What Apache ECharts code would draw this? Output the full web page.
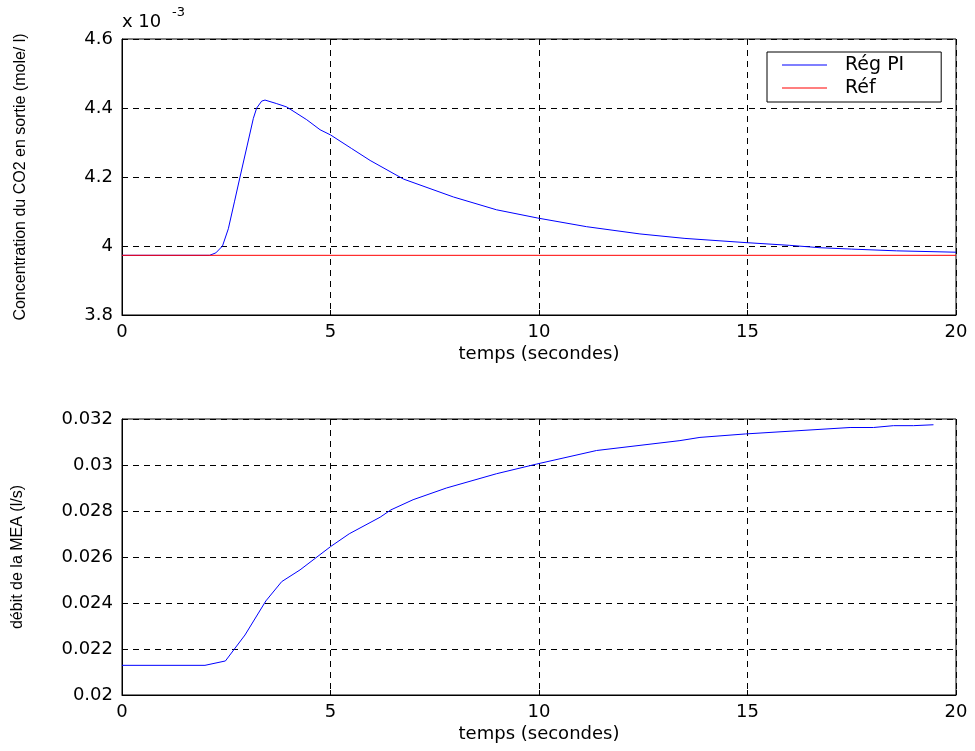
<!DOCTYPE html>
<html>
<head>
<meta charset="utf-8">
<script src="https://cdn.jsdelivr.net/npm/echarts@6/dist/echarts.min.js"></script>
<style>
html,body{margin:0;padding:0;background:#fff;}
#chart{width:975px;height:751px;}
</style>
</head>
<body>
<div id="chart"></div>
<script>
// Top plot: CO2 concentration (values in units of 1e-3 mol/l)
const timeTop = [0, 2.1, 2.25, 2.41, 2.55, 2.7, 2.83, 3.0, 3.15, 3.23, 3.35, 3.43, 3.7, 3.95, 4.43, 4.75, 5.0, 5.5, 5.95, 6.75, 7.95, 8.98, 9.97, 11.14, 12.42, 13.5, 14.94, 16.0, 16.74, 17.5, 18.57, 20];
const concPI = [3.973, 3.973, 3.98, 4.0, 4.05, 4.13, 4.2, 4.29, 4.37, 4.4, 4.42, 4.423, 4.413, 4.403, 4.366, 4.337, 4.322, 4.283, 4.248, 4.194, 4.142, 4.105, 4.081, 4.056, 4.035, 4.022, 4.010, 4.002, 3.995, 3.991, 3.986, 3.982];
const timeRef = [0, 20];
const concRef = [3.973, 3.973];
// Bottom plot: MEA flow (l/s)
const timeBot = [0, 1.99, 2.48, 2.95, 3.45, 3.83, 4.27, 5.0, 5.45, 6.19, 6.45, 6.98, 7.78, 8.98, 9.94, 11.38, 13.38, 13.86, 14.95, 17.46, 18.02, 18.5, 18.98, 19.46];
const debitMEA = [0.02129, 0.02129, 0.02148, 0.02261, 0.02409, 0.02493, 0.02544, 0.02645, 0.02701, 0.02773, 0.02805, 0.02849, 0.0290, 0.02962, 0.03004, 0.03063, 0.03106, 0.0312, 0.03135, 0.03163, 0.03163, 0.03171, 0.03171, 0.03175];
const xTicks = {min: 0, max: 20, interval: 5};
const yTopTicks = {min: 3.8, max: 4.6, interval: 0.2};
const yBotTicks = {min: 0.02, max: 0.032, interval: 0.002};
const seriesNames = ['Rég PI', 'Réf'];
const xName = 'temps (secondes)';
const yTopName = 'Concentration du CO2 en sortie (mole/ l)';
const yBotName = 'débit de la MEA (l/s)';

const FONT = 'DejaVu Sans';
const zip = (a, b) => a.map((v, i) => [v, b[i]]);
const gridLine = {show: true, lineStyle: {color: '#000', type: [6, 5], width: 1}};

function xAxis(gi) {
  return {
    type: 'value', gridIndex: gi, min: xTicks.min, max: xTicks.max, interval: xTicks.interval,
    name: xName, nameLocation: 'middle', nameGap: 30,
    nameTextStyle: {fontFamily: FONT, fontSize: 18, color: '#000'},
    axisLine: {show: true, lineStyle: {color: '#000', width: 1}},
    axisTick: {show: true, inside: true, length: 5, lineStyle: {color: '#000'}},
    axisLabel: {fontFamily: FONT, fontSize: 18, color: '#000', margin: 8},
    splitLine: gridLine
  };
}
function yAxis(gi, t, name, dec) {
  return {
    type: 'value', gridIndex: gi, min: t.min, max: t.max, interval: t.interval,
    name: name, nameLocation: 'middle', nameGap: dec === 1 ? 93 : 96,
    nameTextStyle: {fontFamily: 'Liberation Sans', fontSize: 16, color: '#000'},
    axisLine: {show: true, lineStyle: {color: '#000', width: 1}},
    axisTick: {show: true, inside: true, length: 5, lineStyle: {color: '#000'}},
    axisLabel: {fontFamily: FONT, fontSize: 18, color: '#000', margin: 9,
      formatter: v => String(+v.toFixed(dec))},
    splitLine: gridLine
  };
}

const chart = echarts.init(document.getElementById('chart'), null, {renderer: 'canvas'});
chart.setOption({
  animation: false,
  backgroundColor: '#fff',
  grid: [
    {left: 122, top: 39, width: 834, height: 276, show: true, borderColor: '#000', borderWidth: 1, backgroundColor: 'transparent'},
    {left: 122, top: 419, width: 834, height: 276, show: true, borderColor: '#000', borderWidth: 1, backgroundColor: 'transparent'}
  ],
  xAxis: [xAxis(0), xAxis(1)],
  yAxis: [yAxis(0, yTopTicks, yTopName, 1), yAxis(1, yBotTicks, yBotName, 3)],
  legend: {
    data: seriesNames, orient: 'vertical', left: 767, top: 52,
    padding: [3, 37, 4, 15], itemGap: 3, itemWidth: 45, itemHeight: 1, icon: 'rect',
    borderColor: '#000', borderWidth: 1, backgroundColor: '#fff',
    textStyle: {fontFamily: FONT, fontSize: 19, color: '#000', lineHeight: 20, padding: [0, 0, 0, 13]}
  },
  graphic: [
    {type: 'text', left: 122, top: 13, style: {text: 'x 10', font: '18px "DejaVu Sans"', fill: '#000'}},
    {type: 'text', left: 172, top: 6, style: {text: '-3', font: '13px "DejaVu Sans"', fill: '#000'}}
  ],
  series: [
    {name: seriesNames[0], type: 'line', xAxisIndex: 0, yAxisIndex: 0, data: zip(timeTop, concPI),
     showSymbol: false, lineStyle: {color: '#0000ff', width: 1}, itemStyle: {color: '#0000ff'}},
    {name: seriesNames[1], type: 'line', xAxisIndex: 0, yAxisIndex: 0, data: zip(timeRef, concRef),
     showSymbol: false, lineStyle: {color: '#ff0000', width: 1}, itemStyle: {color: '#ff0000'}},
    {name: 'MEA', type: 'line', xAxisIndex: 1, yAxisIndex: 1, data: zip(timeBot, debitMEA),
     showSymbol: false, lineStyle: {color: '#0000ff', width: 1}, itemStyle: {color: '#0000ff'}}
  ]
});
</script>
</body>
</html>
